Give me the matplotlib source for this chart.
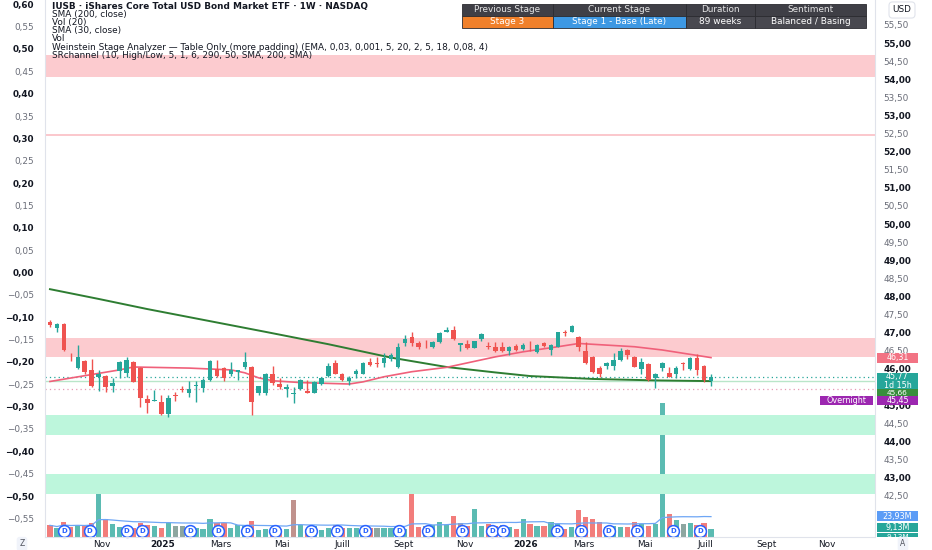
import matplotlib.pyplot as plt
import matplotlib.dates as mdates
import matplotlib.transforms as mtransforms
from matplotlib.patches import Rectangle
import numpy as np
import pandas as pd

# weekly candles, IUSB, starting week of 2024-09-10
opens = [47.30, 47.12, 47.24, 46.34, 46.01, 46.22, 45.97, 45.78, 45.80, 45.53,
         45.95, 45.89, 46.20, 46.01, 45.17, 45.12, 45.09, 44.75, 45.29, 45.44,
         45.34, 45.53, 45.46, 45.69, 45.99, 46.01, 45.86, 45.92, 46.06, 46.06,
         45.32, 45.34, 45.86, 45.58, 45.43, 45.31, 45.43, 45.40, 45.34, 45.58,
         45.80, 46.15, 45.86, 45.67, 45.87, 45.87, 46.20, 46.15, 46.15, 46.26,
         46.04, 46.72, 46.87, 46.70, 46.69, 46.59, 46.75, 47.03, 47.07, 46.66,
         46.69, 46.57, 46.81, 46.63, 46.61, 46.59, 46.50, 46.64, 46.55, 46.64,
         46.46, 46.72, 46.52, 46.61, 47.03, 47.03, 46.89, 46.50, 46.34, 46.01,
         46.08, 46.08, 46.24, 46.52, 46.34, 45.99, 46.12, 45.74, 46.01, 45.89,
         45.86, 46.15, 45.99, 46.29, 46.09, 45.66]
highs = [47.35, 47.26, 47.26, 46.45, 46.67, 46.24, 46.27, 45.97, 45.83, 45.74,
         46.22, 46.34, 46.22, 46.04, 45.28, 45.41, 45.28, 45.28, 45.37, 45.53,
         45.67, 45.67, 45.76, 46.24, 46.24, 46.04, 46.18, 45.97, 46.46, 46.08,
         45.53, 45.89, 46.08, 45.74, 45.58, 45.51, 45.71, 45.69, 45.67, 45.78,
         46.17, 46.24, 45.89, 45.80, 45.99, 46.20, 46.29, 46.34, 46.43, 46.43,
         46.70, 46.93, 47.03, 46.78, 46.80, 46.78, 47.03, 47.16, 47.18, 46.72,
         46.80, 46.78, 47.00, 46.75, 46.73, 46.75, 46.64, 46.68, 46.70, 46.78,
         46.68, 46.75, 46.68, 47.03, 47.07, 47.22, 46.92, 46.75, 46.35, 46.08,
         46.20, 46.45, 46.57, 46.55, 46.35, 46.29, 46.15, 45.89, 46.20, 46.06,
         46.08, 46.20, 46.32, 46.41, 46.11, 45.86]
lows = [47.15, 47.01, 46.50, 46.22, 45.99, 45.87, 45.51, 45.38, 45.36, 45.36,
        45.74, 45.78, 45.64, 44.95, 44.79, 45.12, 44.72, 44.66, 45.12, 45.35,
        45.21, 45.08, 45.37, 45.66, 45.78, 45.66, 45.81, 45.69, 45.99, 44.72,
        45.28, 45.28, 45.55, 45.43, 45.21, 45.06, 45.41, 45.32, 45.32, 45.55,
        45.78, 45.86, 45.67, 45.55, 45.74, 45.86, 46.08, 46.06, 46.04, 46.22,
        46.01, 46.63, 46.63, 46.54, 46.57, 46.57, 46.70, 47.03, 46.80, 46.50,
        46.55, 46.57, 46.78, 46.54, 46.47, 46.47, 46.38, 46.50, 46.52, 46.50,
        46.45, 46.61, 46.38, 46.61, 46.92, 47.01, 46.50, 46.13, 45.89, 45.78,
        45.99, 45.97, 46.22, 46.27, 46.04, 45.87, 45.67, 45.46, 45.95, 45.78,
        45.74, 45.97, 45.97, 45.83, 45.64, 45.53]
closes = [47.21, 47.23, 46.52, 46.32, 46.34, 45.90, 45.53, 45.87, 45.51, 45.60,
          46.20, 46.24, 45.64, 45.18, 45.05, 45.14, 44.75, 45.18, 45.25, 45.41,
          45.43, 45.55, 45.69, 46.22, 45.81, 45.74, 45.97, 45.97, 46.18, 45.09,
          45.53, 45.87, 45.60, 45.49, 45.51, 45.32, 45.69, 45.32, 45.64, 45.74,
          46.08, 45.87, 45.69, 45.76, 45.94, 46.17, 46.11, 46.13, 46.31, 46.38,
          46.61, 46.81, 46.70, 46.61, 46.68, 46.73, 47.00, 47.07, 46.81, 46.72,
          46.57, 46.78, 46.95, 46.59, 46.50, 46.50, 46.61, 46.52, 46.66, 46.62,
          46.66, 46.63, 46.66, 47.01, 46.98, 47.18, 46.59, 46.15, 45.90, 45.86,
          46.17, 46.24, 46.50, 46.38, 46.06, 46.20, 45.69, 45.86, 46.15, 45.78,
          46.01, 46.12, 46.29, 45.97, 45.69, 45.77]
# volume, millions
volumes = [13.3, 10.6, 17.1, 11.4, 14.1, 12.2, 16.0, 63.5, 20.9, 14.4,
           11.4, 11.4, 10.6, 16.0, 13.3, 12.2, 10.6, 16.3, 12.2, 12.2,
           12.2, 10.6, 9.5, 20.9, 16.3, 16.3, 10.3, 13.3, 13.3, 18.2,
           7.6, 9.5, 8.4, 9.5, 9.5, 42.6, 13.3, 9.5, 12.2, 8.4,
           10.6, 13.3, 10.6, 10.6, 10.6, 9.9, 10.6, 10.6, 10.6, 9.9,
           10.6, 9.5, 66.5, 11.4, 12.2, 13.3, 17.1, 13.3, 23.6, 16.3,
           12.2, 31.5, 12.2, 14.4, 12.2, 13.3, 11.4, 9.5, 20.9, 14.4,
           12.2, 12.2, 17.1, 14.4, 9.5, 11.4, 30.4, 22.8, 20.9, 17.1,
           11.4, 12.2, 11.4, 11.4, 17.1, 15.2, 12.2, 15.2, 152.8, 25.8,
           19.0, 15.2, 16.0, 13.3, 16.0, 9.13]

sma200_idx = [1, 8, 15, 32, 41, 50, 58, 65, 70, 79, 88, 96]
sma200_val = [48.20, 47.93, 47.65, 47.02, 46.68, 46.31, 46.05, 45.90, 45.80, 45.72, 45.68, 45.66]
sma30_idx = [1, 6, 11, 13, 21, 27, 29, 31, 33, 37, 44, 46, 49, 53, 58, 65, 69, 74, 77, 85, 89, 96]
sma30_val = [45.65, 45.81, 45.97, 46.05, 46.02, 45.97, 45.89, 45.75, 45.67, 45.62, 45.58,
             45.64, 45.78, 45.92, 46.04, 46.33, 46.47, 46.61, 46.70, 46.61, 46.52, 46.31]
vol_ma_last = 23.93
overnight = 45.45

div_dates = ['2024-09-24', '2024-10-20', '2024-11-26', '2024-12-12', '2025-01-29',
             '2025-02-26', '2025-03-27', '2025-04-24', '2025-05-31', '2025-06-26',
             '2025-07-24', '2025-08-27', '2025-09-25', '2025-10-30', '2025-11-29',
             '2025-12-10', '2026-02-02', '2026-02-26', '2026-03-26', '2026-04-24',
             '2026-05-30', '2026-06-26']

red_zones = [(54.05, 54.66), (46.33, 46.85)]
green_zones = [(44.17, 44.72), (42.54, 43.09)]
thin_level = 52.47

month_ticks = ['2024-11-01', '2025-01-01', '2025-03-01', '2025-05-01', '2025-07-01',
               '2025-09-01', '2025-11-01', '2026-01-01', '2026-03-01', '2026-05-01',
               '2026-07-01', '2026-09-01', '2026-11-01']
month_labels = ['Nov', '2025', 'Mars', 'Mai', 'Juill', 'Sept', 'Nov', '2026', 'Mars',
                'Mai', 'Juill', 'Sept', 'Nov']

table_head = ['Previous Stage', 'Current Stage', 'Duration', 'Sentiment']
table_vals = ['Stage 3', 'Stage 1 - Base (Late)', '89 weeks', 'Balanced / Basing']

legend_lines = ['IUSB · iShares Core Total USD Bond Market ETF · 1W · NASDAQ',
                'SMA (200, close)', 'Vol (20)', 'SMA (30, close)', 'Vol',
                'Weinstein Stage Analyzer — Table Only (more padding) (EMA, 0,03, 0,001, 5, 20, 2, 5, 18, 0,08, 4)',
                'SRchannel (10, High/Low, 5, 1, 6, 290, 50, SMA, 200, SMA)']

UP = '#26a69a'
DOWN = '#ef5350'
TXT = '#131722'
GREY = '#6a6d78'
FS = 6.4

W, H = 932, 550


def fx(px):
    return px / W


def fy(py):
    return 1 - py / H


def fmt(v, dec=2):
    if abs(v) < 1e-9:
        v = 0.0
    s = f'{v:.{dec}f}'.replace('.', ',')
    return s.replace('-', '−')


fig = plt.figure(figsize=(W / 100, H / 100), dpi=100)
ax = fig.add_axes([fx(45), fy(537), fx(875) - fx(45), fy(0) - fy(537)])
ax_v = ax.twinx()
ax_l = ax.twinx()
ax.set_zorder(3)
ax_l.set_zorder(2)
ax_v.set_zorder(1)
ax.patch.set_visible(False)
ax_l.patch.set_visible(False)

dates = pd.date_range('2024-09-10', periods=len(closes), freq='7D')
x = mdates.date2num(dates)
o = np.array(opens)
c = np.array(closes)
up = c >= o
cols = np.where(up, UP, DOWN)

# support / resistance zones
for lo, hi in red_zones:
    ax.axhspan(lo, hi, color='#fccbcf', lw=0, zorder=0)
for lo, hi in green_zones:
    ax.axhspan(lo, hi, color='#bdf6dc', lw=0, zorder=0)
ax.axhline(thin_level, color='#fbc3c8', lw=1.3, zorder=0)

# price lines
ax.axhline(sma200_val[-1], color='#b9e6c9', lw=1.0, zorder=1)
ax.axhline(c[-1], color=UP, lw=0.9, ls=(0, (1, 2.5)), zorder=1)
ax.axhline(overnight, color='#e79ab4', lw=0.9, ls=(0, (1, 2.5)), zorder=1)

# candles
ax.vlines(x, lows, highs, colors=cols, lw=1, zorder=3)
body = np.maximum(np.abs(c - o), 0.015)
ax.bar(x, body, bottom=np.minimum(o, c), width=4.6, color=cols, lw=0, zorder=4)

# moving averages
ax.plot(x[np.array(sma200_idx) - 1], sma200_val, color='#2e7d32', lw=1.4, zorder=2)
ax.plot(x[np.array(sma30_idx) - 1], sma30_val, color='#f0607a', lw=1.2, zorder=2)

ax.set_xlim(mdates.date2num(pd.Timestamp('2024-09-05')), mdates.date2num(pd.Timestamp('2026-12-19')))
ax.set_ylim(41.354, 56.188)

# volume (two overlapping volume studies)
prev = np.concatenate([[o[0]], c[:-1]])
cols2 = np.where(c >= prev, UP, DOWN)
ax_v.bar(x, volumes, width=5.2, color=cols, alpha=0.5, lw=0)
ax_v.bar(x, volumes, width=5.2, color=cols2, alpha=0.5, lw=0)
vol_ma = pd.Series(volumes).rolling(20, min_periods=1).mean()
ax_v.plot(x, vol_ma, color='#6ea6f5', lw=0.9)
ax_v.set_ylim(0, 537 * 1.14)
ax_v.set_yticks([])
blend = mtransforms.blended_transform_factory(ax_v.transData, ax_v.transAxes)
dx = mdates.date2num(pd.to_datetime(div_dates))
ax_v.plot(dx, np.full(len(dx), 0.012), 'o', transform=blend, ms=8.5, mfc='white',
          mec='#2962ff', mew=1.1, clip_on=False)
for d in dx:
    ax_v.text(d, 0.012, 'D', transform=blend, ha='center', va='center', fontsize=5,
              color='#2962ff', fontweight='bold')

# right price scale
ax.yaxis.tick_right()
rt = np.arange(42.5, 55.51, 0.5)
ax.set_yticks(rt)
ax.set_yticklabels([fmt(v) for v in rt])
for v, lab in zip(rt, ax.get_yticklabels()):
    whole = abs(v - round(v)) < 1e-6
    lab.set_fontweight('bold' if whole else 'normal')
    lab.set_color(TXT if whole else GREY)
ax.tick_params(axis='y', length=0, pad=6, labelsize=FS)

# left scale
ax_l.yaxis.tick_left()
ax_l.set_ylim(-0.5917, 0.6096)
lt = np.round(np.arange(-0.55, 0.601, 0.05), 2)
ax_l.set_yticks(lt)
ax_l.set_yticklabels([fmt(v) for v in lt])
for v, lab in zip(lt, ax_l.get_yticklabels()):
    whole = abs(v * 10 - round(v * 10)) < 1e-6
    lab.set_fontweight('bold' if whole else 'normal')
    lab.set_color(TXT if whole else GREY)
ax_l.tick_params(axis='y', length=0, pad=8, labelsize=FS)

# time scale
ax.set_xticks(mdates.date2num(pd.to_datetime(month_ticks)))
ax.set_xticklabels(month_labels)
for lab in ax.get_xticklabels():
    if lab.get_text().isdigit():
        lab.set_fontweight('bold')
    lab.set_color(TXT)
ax.tick_params(axis='x', length=0, pad=2.5, labelsize=FS)

for a in (ax, ax_v, ax_l):
    for s in a.spines.values():
        s.set_visible(False)
for s in ('left', 'right', 'bottom'):
    ax.spines[s].set_visible(True)
    ax.spines[s].set_color('#e0e3eb')
    ax.spines[s].set_linewidth(0.8)


def tag(axis, val, text, color, shift=0, h=10, x0=877, x1=918, fs=5.8, z=10):
    # price-scale label box, stacked a few pixels off its value like the app does
    yc = H - axis.transData.transform((0, val))[1] + shift
    fig.add_artist(Rectangle((fx(x0), fy(yc + h / 2)), fx(x1 - x0), h / H,
                             transform=fig.transFigure, fc=color, ec='none', zorder=z))
    fig.text(fx((x0 + x1) / 2), fy(yc), text, ha='center', va='center', fontsize=fs,
             color='white', zorder=z + 0.5, linespacing=0.95)


tag(ax, sma30_val[-1], fmt(sma30_val[-1]), '#f27384')
tag(ax, c[-1], fmt(c[-1]) + '\n1d 15h', UP, shift=4, h=17)
tag(ax, sma200_val[-1], fmt(sma200_val[-1]), '#388e3c', shift=12, h=8, fs=5.3)
tag(ax, overnight, fmt(overnight), '#9c27b0', shift=12, h=9, z=11)
tag(ax, overnight, 'Overnight', '#9c27b0', shift=12, h=9, x0=820, x1=873, z=11)
tag(ax_v, vol_ma_last, fmt(vol_ma_last) + 'M', '#5b9cf6')
tag(ax_v, volumes[-1], fmt(volumes[-1]) + 'M', UP, shift=-1, h=9)
tag(ax_v, volumes[-1], fmt(volumes[-1]) + 'M', UP, shift=8, h=8, fs=5.3)

# legend block
for i, line in enumerate(legend_lines):
    fig.text(fx(52), fy(6 + i * 8.2), line, fontsize=FS, color=TXT, va='center',
             fontweight='semibold' if i == 0 else 'normal')

# stage table
edges = [462, 553, 686, 755, 866]
for j in range(4):
    x0, x1 = edges[j], edges[j + 1]
    fig.add_artist(Rectangle((fx(x0), fy(16)), fx(x1 - x0), 12 / H, transform=fig.transFigure,
                             fc='#3f3f46', ec='#2b2b30', lw=0.6))
    fig.text(fx((x0 + x1) / 2), fy(10), table_head[j], ha='center', va='center',
             fontsize=FS, color='#e6e6e6')
    bg = ['#f0802a', '#3d98e3', '#48484f', '#48484f'][j]
    fig.add_artist(Rectangle((fx(x0), fy(28)), fx(x1 - x0), 12 / H, transform=fig.transFigure,
                             fc=bg, ec='#2b2b30', lw=0.6))
    fig.text(fx((x0 + x1) / 2), fy(22), table_vals[j], ha='center', va='center',
             fontsize=FS, color='white')

fig.text(fx(902), fy(10), 'USD', ha='center', va='center', fontsize=FS, color=TXT,
         bbox=dict(boxstyle='round,pad=0.4', fc='white', ec='#e0e3eb', lw=0.8))

# cover below the price scale, then scale buttons
fig.add_artist(Rectangle((fx(876), 0), fx(56), 13 / H, transform=fig.transFigure,
                         fc='white', ec='none', zorder=20))
fig.text(fx(22), fy(544), 'Z', ha='center', va='center', fontsize=5.5, color='#50535e', zorder=21,
         bbox=dict(boxstyle='round,pad=0.35', fc='#f0f3fa', ec='none'))
fig.text(fx(903), fy(544), 'A', ha='center', va='center', fontsize=5.5, color='#50535e', zorder=21,
         bbox=dict(boxstyle='round,pad=0.35', fc='#f0f3fa', ec='none'))

fig.savefig('out.png', dpi=100)
